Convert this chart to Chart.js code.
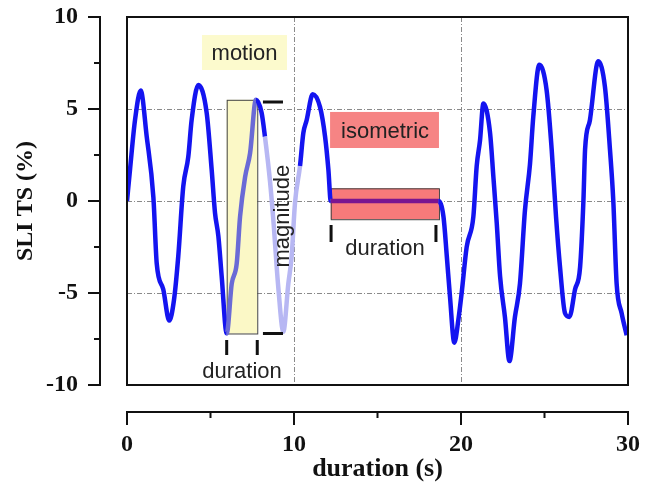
<!DOCTYPE html>
<html>
<head>
<meta charset="utf-8">
<script src="https://cdn.jsdelivr.net/npm/chart.js@4.4.1/dist/chart.umd.min.js"></script>
<style>
  body { margin: 0; background: #fff; }
</style>
</head>
<body>
<canvas id="sliChart" width="646" height="488"></canvas>
<script>
// trace
const timeS = [0, 0.18, 0.48, 0.82, 1.18, 1.58, 1.78, 2.17, 2.53, 2.81, 3.07, 3.37, 3.67, 3.87, 4.27,
  4.77, 5.07, 5.27, 5.47, 5.67, 5.97, 6.27, 6.57, 6.77, 7.07, 7.37, 7.72, 8.06, 8.26, 8.56, 8.76,
  9.06, 9.36, 9.66, 9.86, 10.06, 10.36, 10.56, 10.76, 11.12, 11.56, 11.86, 12.06, 12.2, 18.64,
  18.95, 19.15, 19.34, 19.6, 19.85, 20.04, 20.34, 20.74, 20.94, 21.14, 21.34, 21.74, 21.94, 22.14,
  22.34, 22.63, 22.9, 23.23, 23.53, 23.83, 24.13, 24.33, 24.69, 25.13, 25.43, 25.69, 25.93, 26.23,
  26.49, 26.83, 27.13, 27.33, 27.43, 27.72, 28.22, 28.62, 28.92, 29.12, 29.32, 29.62, 29.92];
const sliTs = [0, 1.7, 4.4, 6.0, 3.5, 0.2, -3.4, -4.8, -6.5, -5.4, -3.0, 0.8, 2.4, 4.4, 6.3,
  4.8, 1.7, -0.65, -1.9, -4.1, -7.2, -4.5, -3.4, -0.85, 1.3, 2.6, 5.5, 4.8, 3.5, 1.1, -1.0,
  -4.7, -7.1, -4.5, -3.0, -0.1, 1.9, 3.7, 4.4, 5.8, 5.1, 3.5, 1.7, 0, 0,
  -0.85, -3.0, -5.2, -7.7, -6.4, -5.0, -2.5, -0.85, 1.9, 3.3, 5.3, 3.7, 1.3, -1.2,
  -4.1, -6.3, -8.7, -6.3, -4.5, -0.5, 2.0, 4.6, 7.4, 6.0, 2.8, -0.85, -3.6, -6.1,
  -6.3, -4.8, -3.6, 0, 2.8, 4.4, 7.6, 6.2, 2.8, 0, -4.5, -6.1, -7.3];

const yTicks = [-10, -5, 0, 5, 10];
const yMinorTicks = [-7.5, -2.5, 2.5, 7.5];
const xTicks = [0, 10, 20, 30];
const xMinorTicks = [5, 15, 25];
const yGridAt = [-5, 0, 5];
const xGridAt = [10, 20];

// phases, in data units
const motionSpan = [5.97, 7.8];
const motionRange = [-7.2, 5.5];
const fadedSpan = [8.26, 10.36];
const isoSpan = [12.2, 18.68];

const axisGap = 27;
const serif = "'Liberation Serif', 'Times New Roman', serif";
const sans = "'Liberation Sans', Arial, sans-serif";

function segColor(ctx) {
  const a = ctx.p0.parsed.x, b = ctx.p1.parsed.x, e = 0.001;
  if (a >= isoSpan[0] - e && b <= isoSpan[1] + e) return '#7a1590';
  if (a >= fadedSpan[0] - e && b <= fadedSpan[1] + e) return '#b7b7f3';
  if (a >= motionSpan[0] - e && b <= 7.72 + e) return '#6a6ad6';
  return undefined;
}

const decor = {
  id: 'decor',
  beforeDatasetsDraw(chart) {
    const { ctx, scales: { x, y } } = chart;
    ctx.save();
    // label boxes
    ctx.fillStyle = '#fcfacd';
    ctx.fillRect(x.getPixelForValue(4.49), y.getPixelForValue(9.02),
      x.getPixelForValue(9.58) - x.getPixelForValue(4.49), y.getPixelForValue(7.12) - y.getPixelForValue(9.02));
    ctx.fillStyle = '#f68484';
    ctx.fillRect(x.getPixelForValue(12.16), y.getPixelForValue(4.84),
      x.getPixelForValue(18.68) - x.getPixelForValue(12.16), y.getPixelForValue(2.88) - y.getPixelForValue(4.84));
    // motion box
    const mx0 = x.getPixelForValue(motionSpan[0]), mx1 = x.getPixelForValue(motionSpan[1]);
    const my0 = y.getPixelForValue(motionRange[1]), my1 = y.getPixelForValue(motionRange[0]);
    ctx.fillStyle = '#fbf8c6';
    ctx.fillRect(mx0, my0, mx1 - mx0, my1 - my0);
    ctx.strokeStyle = '#444';
    ctx.lineWidth = 1;
    ctx.strokeRect(mx0 + 0.5, my0 + 0.5, mx1 - mx0, my1 - my0);
    // isometric box
    const ix0 = x.getPixelForValue(isoSpan[0]), ix1 = x.getPixelForValue(isoSpan[1]);
    const iy0 = y.getPixelForValue(0.69), iy1 = y.getPixelForValue(-0.99);
    ctx.fillStyle = '#f77a7a';
    ctx.fillRect(ix0, iy0, ix1 - ix0, iy1 - iy0);
    ctx.strokeRect(ix0 + 0.5, iy0 + 0.5, ix1 - ix0, iy1 - iy0);
    ctx.restore();
  },
  afterDatasetsDraw(chart) {
    const { ctx, chartArea: ca, scales: { x, y } } = chart;
    const px = v => x.getPixelForValue(v), py = v => y.getPixelForValue(v);
    ctx.save();
    ctx.strokeStyle = '#111';
    ctx.lineWidth = 2;
    ctx.strokeRect(ca.left, ca.top, ca.right - ca.left, ca.bottom - ca.top);

    // detached y axis
    const ax = ca.left - axisGap;
    ctx.beginPath();
    ctx.moveTo(ax, py(10) - 1); ctx.lineTo(ax, py(-10) + 1);
    yTicks.forEach(v => { ctx.moveTo(ax, py(v)); ctx.lineTo(ax - 12, py(v)); });
    yMinorTicks.forEach(v => { ctx.moveTo(ax, py(v)); ctx.lineTo(ax - 6, py(v)); });
    // detached x axis
    const ay = ca.bottom + axisGap;
    ctx.moveTo(px(0) - 1, ay); ctx.lineTo(px(30) + 1, ay);
    xTicks.forEach(v => { ctx.moveTo(px(v), ay); ctx.lineTo(px(v), ay + 13); });
    xMinorTicks.forEach(v => { ctx.moveTo(px(v), ay); ctx.lineTo(px(v), ay + 6); });
    ctx.stroke();

    // marker strokes
    ctx.strokeStyle = '#111';
    ctx.lineWidth = 3;
    ctx.beginPath();
    [motionSpan[0], motionSpan[1]].forEach(v => { ctx.moveTo(px(v), py(-7.55)); ctx.lineTo(px(v), py(-8.37)); });
    [12.22, 18.5].forEach(v => { ctx.moveTo(px(v), py(-1.3)); ctx.lineTo(px(v), py(-2.23)); });
    ctx.moveTo(px(8.14), py(5.38)); ctx.lineTo(px(9.34), py(5.38));
    ctx.moveTo(px(8.14), py(-7.2)); ctx.lineTo(px(9.34), py(-7.2));
    ctx.stroke();

    // texts
    ctx.fillStyle = '#222';
    ctx.font = '22px ' + sans;
    ctx.textAlign = 'center';
    ctx.textBaseline = 'alphabetic';
    ctx.fillText('motion', px(7.04), py(7.66));
    ctx.fillText('isometric', px(15.45), py(3.42));
    ctx.fillText('duration', px(6.89), py(-9.62));
    ctx.fillText('duration', px(15.45), py(-2.93));
    ctx.translate(px(9.7), py(-0.82));
    ctx.rotate(-Math.PI / 2);
    ctx.fillText('magnitude', 0, 0);
    ctx.restore();
  }
};

const gridColor = (list, c) => list.includes(c.tick.value) ? '#8a8a8a' : 'rgba(0,0,0,0)';

new Chart(document.getElementById('sliChart'), {
  type: 'line',
  data: {
    datasets: [{
      data: timeS.map((t, i) => ({ x: t, y: sliTs[i] })),
      borderColor: '#1414f0',
      borderWidth: 4.5,
      pointRadius: 0,
      cubicInterpolationMode: 'monotone',
      segment: { borderColor: segColor }
    }]
  },
  options: {
    responsive: false,
    animation: false,
    layout: { padding: { top: 17, right: 18, left: 0, bottom: 0 } },
    plugins: { legend: { display: false }, tooltip: { enabled: false } },
    scales: {
      x: {
        type: 'linear',
        min: 0, max: 30,
        afterBuildTicks: s => { s.ticks = xTicks.map(v => ({ value: v })); },
        afterFit: s => { s.height = 103; s.paddingLeft = 0; s.paddingRight = 0; },
        grid: { drawTicks: false, lineWidth: 1, color: c => gridColor(xGridAt, c) },
        border: { display: false, dash: [5, 2, 1, 2] },
        ticks: { padding: 45, color: '#111', font: { family: serif, weight: 'bold', size: 24 } },
        title: { display: true, text: 'duration (s)', color: '#111', padding: { top: 0, bottom: 3 },
          font: { family: serif, weight: 'bold', size: 26 } }
      },
      y: {
        min: -10, max: 10,
        afterBuildTicks: s => { s.ticks = yTicks.map(v => ({ value: v })); },
        afterFit: s => { s.width = 127; s.paddingTop = 0; s.paddingBottom = 0; },
        grid: { drawTicks: false, lineWidth: 1, color: c => gridColor(yGridAt, c) },
        border: { display: false, dash: [5, 2, 1, 2] },
        ticks: { padding: 49, color: '#111', font: { family: serif, weight: 'bold', size: 24 } },
        title: { display: true, text: 'SLI TS (%)', color: '#111', padding: { top: 11, bottom: 0 },
          font: { family: serif, weight: 'bold', size: 24 } }
      }
    }
  },
  plugins: [decor]
});
</script>
</body>
</html>
